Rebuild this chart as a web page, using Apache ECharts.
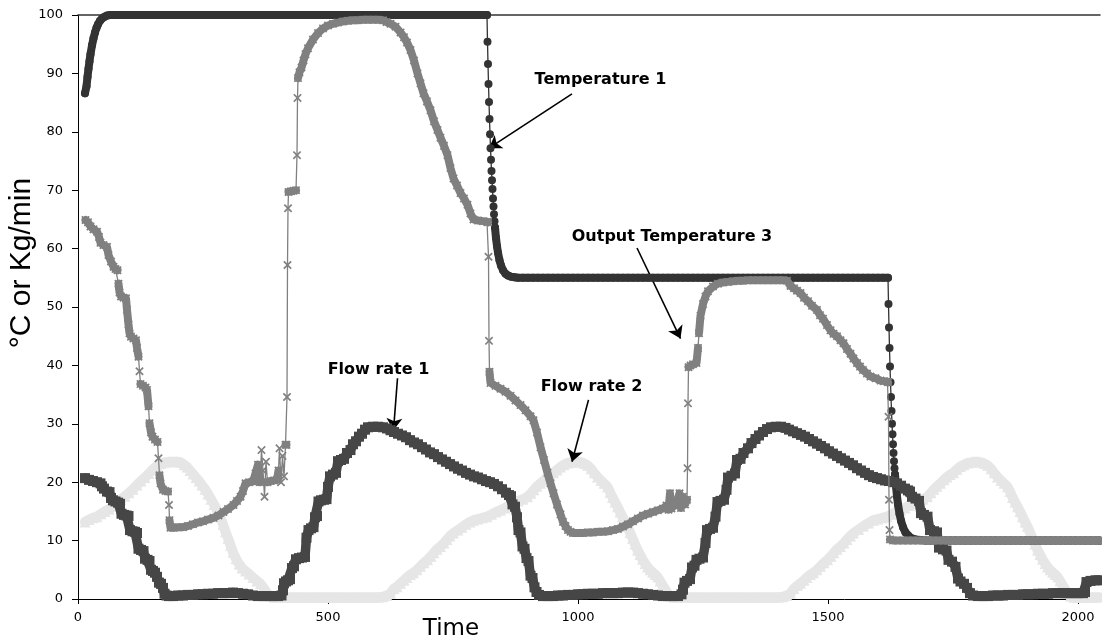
<!DOCTYPE html>
<html>
<head>
<meta charset="utf-8">
<script src="https://cdn.jsdelivr.net/npm/echarts@6/dist/echarts.min.js"></script>
<style>
  html, body { margin: 0; padding: 0; background: #ffffff; }
  #chart { width: 1102px; height: 641px; }
</style>
</head>
<body>
<div id="chart"></div>
<script>
// Sampled process record: [time, value]
const temperature1 = [
  [14,86.6],[17,87.8],[19,89.4],[21,90.8],[23,92.1],[25,93.3],[28,94.8],[31,96],[34,97],[37,97.8],[40,98.4],[44,99],[48,99.4],[53,99.7],[58,99.9],[64,100],
  [70,100],[80,100],[90,100],[100,100],[110,100],[120,100],[130,100],[140,100],[150,100],[160,100],[170,100],[180,100],[190,100],[200,100],
  [210,100],[220,100],[230,100],[240,100],[250,100],[260,100],[270,100],[280,100],[290,100],[300,100],[310,100],[320,100],[330,100],[340,100],
  [350,100],[360,100],[370,100],[380,100],[390,100],[400,100],[410,100],[420,100],[430,100],[440,100],[450,100],[460,100],[470,100],[480,100],
  [490,100],[500,100],[510,100],[520,100],[530,100],[540,100],[550,100],[560,100],[570,100],[580,100],[590,100],[600,100],[610,100],[620,100],
  [630,100],[640,100],[650,100],[660,100],[670,100],[680,100],[690,100],[700,100],[710,100],[720,100],[730,100],[740,100],[750,100],[760,100],
  [770,100],[780,100],[790,100],[800,100],[810,100],
  [818,100],[819,95.4],[820,91.6],[821,88.2],[822,85.1],[823,82.2],[824,79.6],[825,77.2],[826,75.2],[827,73.3],[828,71.7],[829,70.2],
  [830,68.6],[831,67.2],[832,65.9],[833,64.7],[834,63.6],[836,61.8],[838,60.4],[840,59.3],[843,58],[846,57.1],[850,56.3],[855,55.7],
  [860,55.4],[866,55.2],[873,55.1],[880,55],
  [890,55],[900,55],[910,55],[920,55],[930,55],[940,55],[950,55],[960,55],[970,55],[980,55],[990,55],[1000,55],[1010,55],[1020,55],
  [1030,55],[1040,55],[1050,55],[1060,55],[1070,55],[1080,55],[1090,55],[1100,55],[1110,55],[1120,55],[1130,55],[1140,55],[1150,55],
  [1160,55],[1170,55],[1180,55],[1190,55],[1200,55],[1210,55],[1220,55],[1230,55],[1240,55],[1250,55],[1260,55],[1270,55],[1280,55],
  [1290,55],[1300,55],[1310,55],[1320,55],[1330,55],[1340,55],[1350,55],[1360,55],[1370,55],[1380,55],[1390,55],[1400,55],[1410,55],
  [1420,55],[1430,55],[1440,55],[1450,55],[1460,55],[1470,55],[1480,55],[1490,55],[1500,55],[1510,55],[1520,55],[1530,55],[1540,55],
  [1550,55],[1560,55],[1570,55],[1580,55],[1590,55],[1600,55],[1610,55],[1620,55],
  [1621,50.5],[1622,46.5],[1623,43],[1624,39.8],[1625,37.1],[1626,34.6],[1627,32.2],[1628,30],[1629,28.2],[1630,26.5],[1631,25],
  [1632,23.6],[1633,22.4],[1634,21.3],[1636,19.3],[1638,17.6],[1640,16.2],[1643,14.6],[1646,13.4],[1650,12.3],[1655,11.4],[1660,10.9],
  [1667,10.4],[1675,10.2],[1685,10.1],
  [1695,10],[1705,10],[1715,10],[1725,10],[1735,10],[1745,10],[1755,10],[1765,10],[1775,10],[1785,10],[1795,10],[1805,10],[1815,10],
  [1825,10],[1835,10],[1845,10],[1855,10],[1865,10],[1875,10],[1885,10],[1895,10],[1905,10],[1915,10],[1925,10],[1935,10],[1945,10],
  [1955,10],[1965,10],[1975,10],[1985,10],[1995,10],[2005,10],[2015,10],[2025,10],[2035,10],[2043,10]
];

const flowRate1 = [
  [14,20.7],[22,20.4],[30,20.2],[38,20],[45,19.8],[48,19.3],[52,18.9],[58,18.4],[63,18.3],[66,17.3],[70,16.9],[75,16.7],[80,16.5],
  [84,16.3],[87,14.6],[92,14.4],[97,14.3],[101,14.2],[104,11.8],[109,11.6],[114,11.5],[118,11.3],[121,8.6],[126,8.4],[131,8.2],
  [134,6.9],[139,6.7],[143,6.5],[146,5],[150,4.8],[154,4.5],[158,3.8],[162,2.8],[166,2.6],[170,1.9],[173,0.9],[177,0.6],[182,0.5],
  [190,0.5],[200,0.6],[210,0.6],[220,0.7],[230,0.7],[240,0.8],[250,0.8],[260,0.9],[270,0.9],[280,1],[290,1],[300,1],[310,1.1],
  [320,1],[330,0.9],[340,0.8],[350,0.6],[360,0.5],[370,0.5],[380,0.5],[390,0.5],[400,0.5],[407,0.6],
  [410,1.5],[412,2.7],[416,3],[420,3.2],[424,3.4],[428,5.3],[432,5.6],[436,6.8],[442,7],[448,7.1],[454,7.2],[457,10.5],[461,11.8],
  [466,12.1],[471,12.3],[474,14],[478,14.2],[481,16.7],[486,16.9],[492,17],[497,17.1],[500,19.2],[504,21],[510,21.3],[516,21.6],
  [520,23.6],[526,23.8],[532,24],[538,25],[545,25.5],[550,26.5],[556,27],[562,27.8],[568,28.3],[574,29],[580,29.4],[590,29.5],
  [600,29.5],[610,29.4],[618,29.2],[625,28.9],[632,28.6],[640,28.3],[648,28],[656,27.7],[664,27.2],[672,26.8],[680,26.5],[688,26],
  [696,25.6],[704,25.1],[712,24.8],[720,24.3],[728,23.9],[736,23.5],[744,23.1],[752,22.7],[760,22.3],[768,22],[776,21.6],[784,21.3],
  [792,21],[800,20.8],[808,20.5],[816,20.2],[824,20],[832,19.7],[840,19.3],[848,18.8],[856,18.2],[862,17.8],[866,17.6],[869,16.2],
  [874,15.8],[878,14],[881,11.8],[885,11.4],[889,9],[893,8.6],[897,7],[901,6.5],[905,4],[909,3.6],[913,2],[917,1.2],[922,0.7],
  [930,0.5],[940,0.5],[950,0.5],[960,0.6],[970,0.6],[980,0.7],[990,0.7],[1000,0.8],[1010,0.8],[1020,0.9],[1030,0.9],[1040,0.9],
  [1050,1],[1060,1],[1070,1],[1080,1],[1090,1.1],[1100,1.1],[1110,1.1],[1120,1],[1130,0.9],[1140,0.8],[1150,0.7],[1160,0.6],
  [1170,0.5],[1180,0.5],[1190,0.5],[1200,0.5],[1207,0.8],
  [1210,1.6],[1213,2.8],[1218,3.1],[1224,3.4],[1228,5.4],[1233,5.7],[1237,6.7],[1243,6.9],[1250,7.1],[1255,9.6],[1258,11.8],
  [1264,12],[1270,12.2],[1275,14.1],[1279,16.6],[1285,16.8],[1292,17],[1297,18.7],[1300,20.8],[1307,21.1],[1314,21.5],[1318,23.8],
  [1325,24],[1331,25],[1340,25.8],[1347,26.7],[1355,27.4],[1362,28],[1370,28.6],[1378,29.1],[1386,29.4],[1396,29.5],[1406,29.5],
  [1415,29.3],[1422,29],[1430,28.7],[1438,28.4],[1446,28.1],[1454,27.8],[1462,27.4],[1470,27],[1478,26.6],[1486,26.2],[1494,25.8],
  [1502,25.3],[1510,24.9],[1518,24.5],[1526,24.1],[1534,23.7],[1542,23.3],[1550,22.9],[1558,22.4],[1566,22],[1574,21.6],[1582,21.2],
  [1590,20.9],[1598,20.7],[1606,20.5],[1614,20.3],[1622,20.2],[1630,20],[1638,19.8],[1646,19.4],[1654,18.9],[1660,18.6],[1664,18.4],
  [1668,17.5],[1675,17.2],[1682,16.8],[1686,14.7],[1692,14.4],[1699,14.1],[1704,11.8],[1712,11.6],[1718,11.4],[1722,8.8],[1730,8.5],
  [1737,8.3],[1741,6.7],[1748,6.4],[1755,5.5],[1760,3.5],[1765,3],[1772,2.6],[1778,1.9],[1784,1],[1790,0.6],
  [1800,0.5],[1810,0.5],[1820,0.5],[1830,0.6],[1840,0.6],[1850,0.6],[1860,0.7],[1870,0.7],[1880,0.7],[1890,0.8],[1900,0.8],
  [1910,0.8],[1920,0.9],[1930,0.9],[1940,0.9],[1950,1],[1960,1],[1970,1],[1980,1],[1990,1],[2000,1],[2010,1],[2014,1.2],
  [2017,2.9],[2025,3.1],[2035,3.2],[2043,3.2]
];

const flowRate2 = [
  [14,13.2],[22,13.6],[30,13.9],[38,14.1],[46,14.6],[54,15],[62,15.4],[70,15.9],[78,16.5],[86,17.1],[94,17.6],[102,18.2],[110,18.8],
  [118,19.5],[126,20.2],[134,20.8],[142,21.5],[150,22.2],[158,22.8],[166,23.2],[174,23.4],[182,23.5],[190,23.5],[198,23.5],[206,23.4],
  [212,23],[218,22.6],[224,22],[230,21.4],[236,20.8],[242,20.2],[248,19.5],[254,18.8],[260,18],[266,17.1],[272,16.2],[278,15.2],
  [284,14.1],[290,12.8],[295,11.5],[300,10.4],[305,9.2],[310,8],[316,6.9],[322,6],[328,5.3],[335,4.8],[342,4.3],[350,3.7],[358,3.1],
  [365,2.6],[372,1.8],[378,1],[384,0.5],[392,0.3],[400,0.3],[410,0.3],[420,0.3],[430,0.3],[440,0.3],[450,0.3],[460,0.3],[470,0.3],
  [480,0.3],[490,0.3],[500,0.3],[510,0.3],[520,0.3],[530,0.3],[540,0.3],[550,0.3],[560,0.3],[570,0.3],[580,0.3],[590,0.3],[600,0.3],
  [610,0.4],[618,0.6],[625,1],[632,1.8],[638,2.1],[645,2.7],[652,3.2],[658,3.7],[665,4.2],[671,4.5],[678,5],[685,5.6],[692,6.2],
  [699,6.7],[706,7.3],[712,7.9],[718,8.5],[725,9],[732,9.6],[738,10.2],[744,10.8],[751,11.3],[760,11.8],[768,12.3],[776,12.8],
  [784,13.2],[791,13.5],[800,13.7],[809,13.9],[818,14.1],[827,14.5],[836,14.9],[845,15.2],[854,15.6],[862,16],[871,16.4],[880,16.8],
  [890,17.1],[899,17.5],[906,18.1],[912,18.7],[918,19.3],[925,19.8],[932,20.3],[938,20.8],[944,21.2],[951,21.6],[958,22.1],[965,22.6],
  [972,23],[979,23.3],[986,23.4],[992,23.5],[999,23.5],[1006,23.4],[1013,23.2],[1019,22.9],[1026,22.3],[1032,21.6],[1039,20.9],
  [1046,20.3],[1052,19.8],[1059,19.2],[1064,18.3],[1069,17.4],[1074,16.6],[1079,15.8],[1084,14.9],[1089,14.1],[1094,13.2],[1099,12.4],
  [1104,11.4],[1109,10.4],[1114,9.4],[1119,8.4],[1124,7.6],[1129,6.8],[1134,6.1],[1139,5.5],[1144,5],[1149,4.6],[1154,4.2],[1159,3.8],
  [1164,3.1],[1169,2.4],[1174,1.7],[1179,1],[1185,0.5],[1192,0.3],[1200,0.3],[1210,0.3],[1220,0.3],[1230,0.3],[1240,0.3],[1250,0.3],
  [1260,0.3],[1270,0.3],[1280,0.3],[1290,0.3],[1300,0.3],[1310,0.3],[1320,0.3],[1330,0.3],[1340,0.3],[1350,0.3],[1360,0.3],[1370,0.3],
  [1380,0.3],[1390,0.3],[1400,0.3],[1410,0.4],[1418,0.6],[1425,1],[1432,1.8],[1439,2.3],[1445,2.7],[1452,3.2],[1458,3.7],[1465,4.2],
  [1471,4.5],[1478,5],[1485,5.6],[1492,6.2],[1499,6.7],[1506,7.3],[1512,7.9],[1518,8.5],[1525,9],[1532,9.6],[1538,10.2],[1545,10.8],
  [1551,11.3],[1561,11.9],[1571,12.5],[1581,13],[1591,13.5],[1600,13.7],[1609,13.9],[1618,14.1],[1627,14.5],[1636,14.9],[1645,15.2],
  [1654,15.6],[1662,16],[1671,16.4],[1680,16.8],[1690,17.1],[1699,17.5],[1706,18.2],[1712,18.8],[1718,19.3],[1725,19.8],[1732,20.4],
  [1738,20.9],[1744,21.3],[1751,21.6],[1758,22.2],[1765,22.7],[1772,23],[1779,23.3],[1786,23.4],[1792,23.5],[1799,23.5],[1806,23.4],
  [1813,23.2],[1819,22.9],[1826,22.3],[1832,21.6],[1839,20.9],[1846,20.3],[1852,19.8],[1859,19.2],[1864,18.4],[1869,17.4],[1874,16.6],
  [1879,15.8],[1884,15],[1889,14.1],[1894,13.2],[1899,12.4],[1904,11.4],[1909,10.4],[1914,9.4],[1919,8.4],[1924,7.6],[1929,6.8],
  [1934,6.1],[1939,5.5],[1944,5],[1949,4.6],[1954,4.2],[1959,3.8],[1964,3.1],[1969,2.4],[1974,1.7],[1979,1],[1985,0.5],[1992,0.3],
  [2000,0.3],[2010,0.3],[2020,0.3],[2030,0.3],[2043,0.3]
];

const outputTemperature3 = [
  [15,64.9],[20,64.5],[25,63.8],[31,63.3],[38,62.9],[42,62],[45,61],[51,60.6],[58,60.3],[61,58.9],[66,57.8],[71,56.9],[75,56.5],
  [79,56.3],[81,54],[83,52.5],[86,51.8],[91,51.6],[96,51.5],[98,49.5],[101,47],[103,45.5],[106,44.9],[111,44.6],[116,44.3],[118,43],
  [121,41.5],[123,39],[125,36.8],[130,36.5],[135,36.2],[138,35.8],[141,33],[143,30.1],[146,28.5],[149,27.8],[154,27.3],[159,26.9],
  [161,24.1],[163,21.2],[165,19.8],[170,18.7],[175,18.5],[180,18.4],[182,16.1],[183,13.5],[185,12.2],[192,12.2],[200,12.3],[210,12.3],
  [220,12.5],[230,12.8],[240,13.1],[250,13.3],[260,13.6],[271,13.9],[281,14.3],[291,14.9],[300,15.4],[311,16.1],[318,16.8],[325,17.5],
  [330,18.5],[335,19.8],[342,20],[350,20.1],[355,21.5],[360,23],[364,20],[367,25.5],[370,22],[373,17.5],[376,23.5],[379,20],[385,20.2],
  [392,20.3],[398,20.4],[401,22],[403,25.8],[406,20],[409,24.5],[412,21],[415,26.4],[417,26.4],[418,34.6],[419,57.2],[420,66.9],
  [421,69.7],[426,69.8],[431,69.9],[436,70],[438,76],[439,85.8],[440,89.2],[443,90.2],[447,91],[451,92.2],[455,93.3],[460,94.3],
  [470,95.8],[480,96.9],[490,97.7],[500,98.2],[510,98.5],[520,98.7],[530,98.9],[540,99],[550,99.1],[560,99.1],[570,99.2],[580,99.2],
  [590,99.2],[600,99.2],[610,99.1],[617,98.8],[625,98.5],[635,98],[645,97],[652,96.2],[658,95.3],[665,94],[672,92.2],[679,90],
  [685,88.3],[691,86.6],[698,85.2],[705,83.7],[712,81.8],[719,80.3],[725,79],[732,77.6],[739,76],[745,73.8],[751,72],[758,70.8],
  [765,69.5],[772,68.6],[779,67.5],[785,66],[791,65],[800,64.8],[810,64.7],[818,64.6],[820,64.5],[821,58.6],[822,44.2],[823,38.9],
  [825,37],[835,36.5],[845,36],[855,35.5],[865,34.8],[875,34],[885,33.2],[895,32.3],[905,31.3],[911,30.6],[918,28.5],[925,26],
  [932,23.8],[939,21.6],[945,19.8],[951,18.1],[958,16.2],[965,14.5],[970,13.2],[975,12.5],[980,11.8],[985,11.5],[990,11.3],
  [1000,11.3],[1010,11.3],[1020,11.4],[1030,11.4],[1040,11.5],[1050,11.5],[1060,11.6],[1070,11.8],[1080,12],[1090,12.4],[1100,12.8],
  [1110,13.3],[1120,13.8],[1130,14.3],[1140,14.6],[1150,14.9],[1160,15.2],[1170,15.5],[1177,16],[1181,15.3],[1184,18.1],[1187,15.5],
  [1192,16],[1198,16.5],[1203,18.1],[1206,15.6],[1210,17.5],[1214,16.2],[1218,17],[1219,22.4],[1220,33.5],[1221,39.7],[1225,40],
  [1230,40.2],[1237,40.4],[1240,43],[1242,45.5],[1245,48.5],[1250,50.5],[1255,51.8],[1260,52.7],[1270,53.5],[1280,54],[1290,54.2],
  [1300,54.3],[1310,54.4],[1320,54.5],[1330,54.5],[1340,54.6],[1350,54.6],[1360,54.6],[1370,54.6],[1380,54.6],[1390,54.6],[1400,54.6],
  [1410,54.6],[1418,54.5],[1425,53.6],[1432,53.2],[1438,52.8],[1445,52.4],[1452,51.6],[1460,51],[1468,50.2],[1478,49.5],[1484,48.6],
  [1490,48],[1498,46.9],[1505,46],[1511,45.4],[1518,45],[1525,44.3],[1531,43.8],[1538,42.8],[1545,42],[1551,41.2],[1558,40.4],
  [1564,39.8],[1570,39.2],[1578,38.6],[1585,38.1],[1595,37.8],[1605,37.4],[1612,37.3],[1619,37.2],[1620,37.1],[1621,31.2],[1622,17],
  [1623,11.8],[1624,10.2],[1630,10],[1640,10],[1650,10],[1660,10],[1670,10],[1680,10],[1690,10],[1700,10],[1710,10],[1720,10],
  [1730,10],[1740,10],[1750,10],[1760,10],[1770,10],[1780,10],[1790,10],[1800,10],[1810,10],[1820,10],[1830,10],[1840,10],[1850,10],
  [1860,10],[1870,10],[1880,10],[1890,10],[1900,10],[1910,10],[1920,10],[1930,10],[1940,10],[1950,10],[1960,10],[1970,10],[1980,10],
  [1990,10],[2000,10],[2010,10],[2020,10],[2030,10],[2040,10],[2043,10]
];

// Axis ranges
const timeRange = [0, 2044];
const valueRange = [0, 100];

// Callout texts with their anchor (label centre) and arrow ends, in data units
const notes = [
  { text: 'Temperature 1',        label: [1045, 88.9], from: [988, 86.5],  to: [822, 77.2] },
  { text: 'Output Temperature 3', label: [1188, 62.0], from: [1118, 60.1], to: [1205, 44.6] },
  { text: 'Flow rate 1',          label: [601, 39.2],  from: [639, 37.8],  to: [631, 28.9] },
  { text: 'Flow rate 2',          label: [1027, 36.3], from: [1021, 34.1], to: [988, 23.5] }
];

const crossSymbol = 'path://M0,1.4L1.4,0L5,3.6L8.6,0L10,1.4L6.4,5L10,8.6L8.6,10L5,6.4L1.4,10L0,8.6L3.6,5Z';
const FONT = 'DejaVu Sans';

// Dense stretches of overlapping markers read as a solid band; steep jumps
// show the single thin trace with separate markers. The band keeps only the
// segments whose slope stays under the given limit.
function bandOf(data, maxSlope) {
  const out = [];
  for (let i = 0; i < data.length; i++) {
    if (i > 0) {
      const [t0, v0] = data[i - 1];
      const [t1, v1] = data[i];
      if (Math.abs(v1 - v0) / (t1 - t0) > maxSlope) out.push([(t0 + t1) / 2, null]);
    }
    out.push(data[i]);
  }
  return out;
}

// Each trace gets its own layer so later traces cover earlier ones completely.
function band(name, data, maxSlope, color, width, z) {
  return {
    name: name + ' band', type: 'line', data: bandOf(data, maxSlope), z,
    symbol: 'none', connectNulls: false, clip: false, silent: true,
    lineStyle: { color, width, cap: 'round', join: 'round' },
    emphasis: { disabled: true }
  };
}

function curve(name, data, symbol, size, color, z) {
  return {
    name, type: 'line', data, z,
    symbol, symbolSize: size, showSymbol: true, showAllSymbol: true,
    itemStyle: { color, borderWidth: 0 },
    lineStyle: { color, width: 1.3 },
    clip: false, silent: true,
    emphasis: { disabled: true }
  };
}

const chart = echarts.init(document.getElementById('chart'), null, { renderer: 'canvas' });

chart.setOption({
  animation: false,
  backgroundColor: '#ffffff',
  textStyle: { fontFamily: FONT },
  grid: { left: 78, right: 2, top: 15, bottom: 42, containLabel: false, outerBoundsMode: 'none' },
  xAxis: [
    {
      type: 'value', min: timeRange[0], max: timeRange[1], interval: 500,
      name: 'Time', nameLocation: 'middle', nameGap: 19, nameMoveOverlap: false,
      nameTextStyle: { fontFamily: FONT, fontSize: 23, color: '#000', padding: [0, 276, 0, 0] },
      axisLine: { show: true, lineStyle: { color: '#000', width: 1 } },
      axisTick: { show: true, inside: false, length: 5, lineStyle: { color: '#000' } },
      axisLabel: { fontFamily: FONT, fontSize: 13, color: '#000', margin: 12, formatter: v => String(v) },
      splitLine: { show: false }
    },
    {
      type: 'value', position: 'top', min: timeRange[0], max: timeRange[1],
      axisLine: { show: true, lineStyle: { color: '#333', width: 1.5 } },
      axisTick: { show: false }, axisLabel: { show: false }, splitLine: { show: false }
    }
  ],
  yAxis: {
    type: 'value', min: valueRange[0], max: valueRange[1], interval: 10,
    name: '°C or Kg/min', nameLocation: 'middle', nameRotate: 90, nameGap: 41, nameMoveOverlap: false,
    nameTextStyle: { fontFamily: 'Liberation Sans', fontSize: 30, color: '#000', padding: [0, 0, 0, 88] },
    axisLine: { show: true, lineStyle: { color: '#000', width: 1 } },
    axisTick: { show: true, inside: false, length: 6, lineStyle: { color: '#000' } },
    axisLabel: { fontFamily: FONT, fontSize: 13, color: '#000', margin: 15 },
    splitLine: { show: false }
  },
  series: [
    band('Flow rate 2', flowRate2, 5, '#e6e6e6', 10, 2),
    curve('Flow rate 2', flowRate2, 'triangle', 11, '#e6e6e6', 3),
    band('Temperature 1', temperature1, 1.0, '#333333', 8, 4),
    curve('Temperature 1', temperature1, 'circle', 8, '#333333', 5),
    band('Flow rate 1', flowRate1, 5, '#464646', 9.5, 6),
    curve('Flow rate 1', flowRate1, 'rect', 10, '#464646', 7),
    band('Output Temperature 3', outputTemperature3, 1.0, '#808080', 8, 8),
    curve('Output Temperature 3', outputTemperature3, crossSymbol, 8.5, '#808080', 9),
    {
      name: 'callouts', type: 'line', data: [], silent: true, z: 10,
      markLine: {
        silent: true, animation: false,
        symbol: ['none', 'arrow'], symbolSize: 12,
        lineStyle: { color: '#000', width: 1.6, type: 'solid' },
        itemStyle: { color: '#000' },
        label: { show: false },
        emphasis: { disabled: true },
        data: notes.map(n => [{ coord: n.from }, { coord: n.to }])
      },
      markPoint: {
        silent: true, animation: false,
        symbol: 'circle', symbolSize: 0,
        itemStyle: { color: 'rgba(0,0,0,0)' },
        label: {
          show: true, position: 'inside', color: '#000',
          fontFamily: FONT, fontWeight: 'bold', fontSize: 16
        },
        data: notes.map(n => ({ coord: n.label, value: n.text, label: { formatter: n.text } }))
      }
    }
  ]
});
</script>
</body>
</html>
